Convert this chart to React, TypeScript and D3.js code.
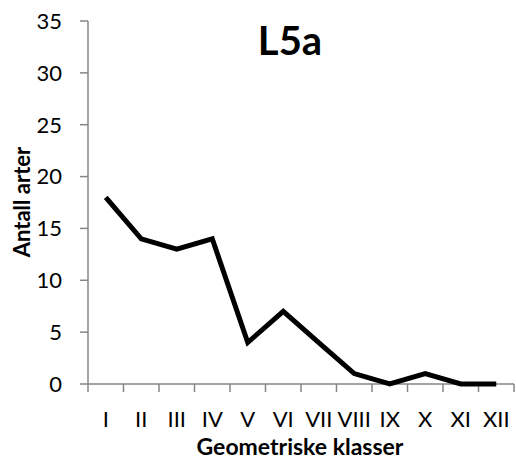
import React from 'react';
import * as d3 from 'd3';

const classes = ['I', 'II', 'III', 'IV', 'V', 'VI', 'VII', 'VIII', 'IX', 'X', 'XI', 'XII'];
const species = [18, 14, 13, 14, 4, 7, 4, 1, 0, 1, 0, 0];
const yTicks = [0, 5, 10, 15, 20, 25, 30, 35];

const W = 516;
const H = 461;
const left = 88;
const right = 514;
const top = 21;
const bottom = 384;
const font = 'Lato, "Open Sans", sans-serif';

export default function App() {
  const x = d3.scaleBand<string>().domain(classes).range([left, right]);
  const y = d3.scaleLinear().domain([0, 35]).range([bottom, top]);

  const line = d3
    .line<number>()
    .x((_, i) => (x(classes[i]) as number) + x.bandwidth() / 2)
    .y((d) => y(d));

  const bounds = classes.map((c) => x(c) as number).concat([right]);

  return (
    <svg width={W} height={H} style={{ position: 'absolute', left: 0, top: 0 }}>
      <rect width={W} height={H} fill="#fff" />
      {/* axes */}
      <line x1={left} x2={left} y1={top} y2={bottom} stroke="#868686" strokeWidth={1.5} />
      <line x1={left} x2={right} y1={bottom} y2={bottom} stroke="#868686" strokeWidth={1.5} />
      {yTicks.map((t) => (
        <g key={t}>
          <line x1={left - 8} x2={left} y1={y(t)} y2={y(t)} stroke="#868686" strokeWidth={1.5} />
          <text x={left - 26} y={y(t)} dy="0.36em" textAnchor="end" fontFamily={font} fontSize={22}>
            {t}
          </text>
        </g>
      ))}
      {bounds.map((b, i) => (
        <line key={i} x1={b} x2={b} y1={bottom} y2={bottom + 8} stroke="#868686" strokeWidth={1.5} />
      ))}
      {classes.map((c) => (
        <text
          key={c}
          x={(x(c) as number) + x.bandwidth() / 2}
          y={427}
          textAnchor="middle"
          fontFamily={font}
          fontSize={22}
        >
          {c}
        </text>
      ))}
      {/* series */}
      <path d={line(species) || ''} fill="none" stroke="#000" strokeWidth={5} strokeLinejoin="miter" />
      {/* titles */}
      <text x={290} y={55} textAnchor="middle" fontFamily={font} fontWeight="bold" fontSize={40}>
        L5a
      </text>
      <text
        transform={`translate(30,202) rotate(-90)`}
        textAnchor="middle"
        fontFamily={font}
        fontWeight="bold"
        fontSize={22}
      >
        Antall arter
      </text>
      <text x={300} y={455} textAnchor="middle" fontFamily={font} fontWeight="bold" fontSize={23}>
        Geometriske klasser
      </text>
    </svg>
  );
}
